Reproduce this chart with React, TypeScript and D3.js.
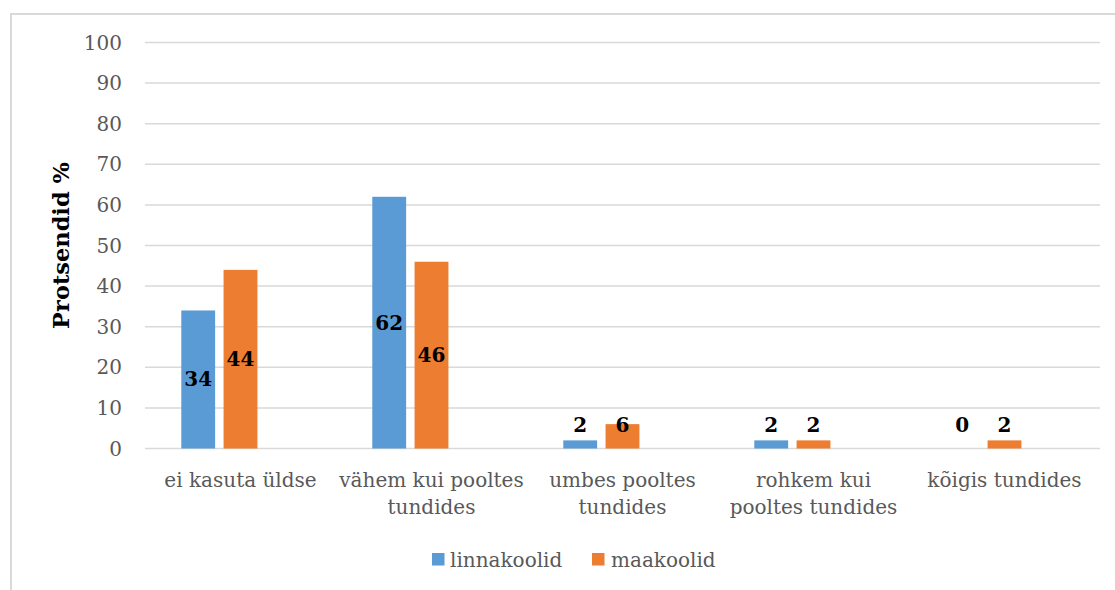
import React from "react";
import * as d3 from "d3";

const categories = [
  "ei kasuta üldse",
  "vähem kui pooltes tundides",
  "umbes pooltes tundides",
  "rohkem kui pooltes tundides",
  "kõigis tundides",
];
const categoryLines = [
  ["ei kasuta üldse"],
  ["vähem kui pooltes", "tundides"],
  ["umbes pooltes", "tundides"],
  ["rohkem kui", "pooltes tundides"],
  ["kõigis tundides"],
];
const seriesNames = ["linnakoolid", "maakoolid"];
const linnakoolid = [34, 62, 2, 2, 0];
const maakoolid = [44, 46, 6, 2, 2];
const yTicks = [0, 10, 20, 30, 40, 50, 60, 70, 80, 90, 100];
const colors = ["#5B9BD5", "#ED7D31"];

const FONT = "'DejaVu Serif', serif";

export default function App() {
  const W = 1115;
  const H = 590;
  const left = 145;
  const right = 1100;
  const top = 42.5;
  const bottom = 448.5;

  const x0 = d3.scaleBand<string>().domain(categories).range([left, right]).padding(0);
  const bw = x0.bandwidth();
  const outer = bw * 0.19;
  // third slot is an empty series, as in the original
  const x1 = d3
    .scaleBand<string>()
    .domain([...seriesNames, "_"])
    .range([outer, bw - outer])
    .paddingInner(0.2);
  const y = d3.scaleLinear().domain([0, 100]).range([bottom, top]);

  const series = [linnakoolid, maakoolid];

  return (
    <svg
      width={W}
      height={H}
      style={{ position: "absolute", left: 0, top: 0, background: "#fff" }}
      fontFamily={FONT}
    >
      <rect x={11} y={14} width={1200} height={700} fill="#fff" stroke="#D9D9D9" strokeWidth={2} />
      {yTicks.map((t) => (
        <g key={t}>
          <line x1={left} x2={right} y1={y(t)} y2={y(t)} stroke="#D9D9D9" strokeWidth={1.5} />
          <text
            x={122}
            y={y(t)}
            textAnchor="end"
            dominantBaseline="central"
            fontSize={20}
            fill="#595959"
          >
            {t}
          </text>
        </g>
      ))}
      {categories.map((c, ci) => (
        <g key={c}>
          {series.map((vals, si) => {
            const bx = (x0(c) ?? 0) + (x1(seriesNames[si]) ?? 0);
            const v = vals[ci];
            const mid = (y(v) + y(0)) / 2;
            const ly = Math.min(mid, y(0) - 24);
            return (
              <g key={si}>
                {v > 0 && (
                  <rect
                    x={bx}
                    y={y(v)}
                    width={x1.bandwidth()}
                    height={y(0) - y(v)}
                    fill={colors[si]}
                  />
                )}
                <text
                  x={bx + x1.bandwidth() / 2}
                  y={ly}
                  textAnchor="middle"
                  dominantBaseline="central"
                  fontSize={20}
                  fontWeight="bold"
                  fill="#000"
                >
                  {v}
                </text>
              </g>
            );
          })}
          {categoryLines[ci].map((ln, li) => (
            <text
              key={li}
              x={(x0(c) ?? 0) + bw / 2}
              y={480 + li * 27}
              textAnchor="middle"
              dominantBaseline="central"
              fontSize={20}
              fill="#595959"
            >
              {ln}
            </text>
          ))}
        </g>
      ))}
      <text
        transform={`translate(61,${(top + bottom) / 2}) rotate(-90)`}
        textAnchor="middle"
        dominantBaseline="central"
        fontSize={22.5}
        fontWeight="bold"
        fill="#000"
      >
        Protsendid %
      </text>
      <g>
        <rect x={432} y={553} width={12.5} height={12.5} fill={colors[0]} />
        <text x={450} y={560} dominantBaseline="central" fontSize={20} fill="#595959">
          {seriesNames[0]}
        </text>
        <rect x={592} y={553} width={12.5} height={12.5} fill={colors[1]} />
        <text x={611} y={560} dominantBaseline="central" fontSize={20} fill="#595959">
          {seriesNames[1]}
        </text>
      </g>
    </svg>
  );
}
